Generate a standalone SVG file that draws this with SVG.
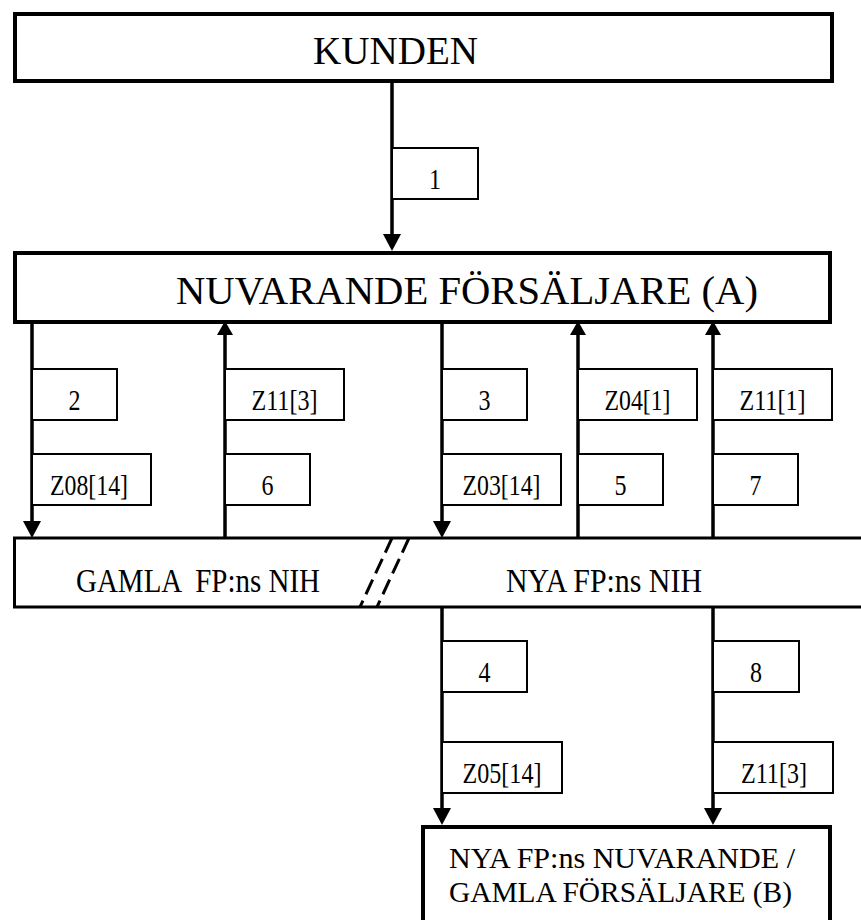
<svg xmlns="http://www.w3.org/2000/svg" width="861" height="920" viewBox="0 0 861 920" font-family="Liberation Serif, Times New Roman, Tinos, DejaVu Serif, serif">
  <style>
    text { font-family: "Liberation Serif", "Times New Roman", Tinos, "DejaVu Serif", serif; fill: #000; }
    .node { fill: #fff; stroke: #000; stroke-width: 4; }
    .mid { fill: #fff; stroke: #000; stroke-width: 3; }
    .lbl { fill: #fff; stroke: #000; stroke-width: 2; }
    .lt { font-size: 30px; text-anchor: middle; }
    .flow { stroke: #000; stroke-width: 3.5; fill: none; }
    .down { marker-end: url(#ahDown); }
    .up { marker-end: url(#ahUp); }
    .dash { stroke: #000; stroke-width: 3; stroke-dasharray: 16 7; fill: none; }
  </style>
  <defs>
    <marker id="ahDown" markerUnits="userSpaceOnUse" viewBox="0 -9 17 18" markerWidth="17" markerHeight="18" refX="11" refY="0" orient="auto">
      <path d="M0,-9 L17,0 L0,9 Z" fill="#000"/>
    </marker>
    <marker id="ahUp" markerUnits="userSpaceOnUse" viewBox="0 -8 14 16" markerWidth="14" markerHeight="16" refX="8" refY="0" orient="auto">
      <path d="M0,-8 L14,0 L0,8 Z" fill="#000"/>
    </marker>
  </defs>
  <rect width="861" height="920" fill="#fff"/>

  <g id="kunden">
    <rect class="node" x="15" y="14" width="817" height="67"/>
    <text x="313" y="64" font-size="39" textLength="165" lengthAdjust="spacingAndGlyphs">KUNDEN</text>
  </g>

  <g id="nuvarande">
    <rect class="node" x="15" y="253" width="815" height="69"/>
    <text x="176" y="304" font-size="39" textLength="582" lengthAdjust="spacingAndGlyphs">NUVARANDE FÖRSÄLJARE (A)</text>
  </g>

  <g id="nih">
    <rect class="mid" x="14.5" y="538" width="900" height="69"/>
    <text x="76" y="592" font-size="33" textLength="244" lengthAdjust="spacingAndGlyphs" xml:space="preserve">GAMLA  FP:ns NIH</text>
    <text x="506" y="592" font-size="33" textLength="196" lengthAdjust="spacingAndGlyphs">NYA FP:ns NIH</text>
    <line class="dash" x1="392" y1="538" x2="360" y2="607"/>
    <line class="dash" x1="409" y1="538" x2="377" y2="607"/>
  </g>

  <g id="nya-fp">
    <rect class="node" x="423" y="827" width="407" height="200"/>
    <text x="449" y="868" font-size="29" textLength="346" lengthAdjust="spacingAndGlyphs">NYA FP:ns NUVARANDE /</text>
    <text x="449" y="902" font-size="29" textLength="343" lengthAdjust="spacingAndGlyphs">GAMLA FÖRSÄLJARE (B)</text>
  </g>

  <g id="connectors">
    <line class="flow down" x1="392" y1="83" x2="392" y2="245"/>
    <line class="flow down" x1="32" y1="324" x2="32" y2="532"/>
    <line class="flow down" x1="442" y1="324" x2="442" y2="532"/>
    <line class="flow up" x1="225" y1="538" x2="225" y2="327"/>
    <line class="flow up" x1="578" y1="538" x2="578" y2="327"/>
    <line class="flow up" x1="713" y1="538" x2="713" y2="327"/>
    <line class="flow down" x1="442" y1="607" x2="442" y2="819"/>
    <line class="flow down" x1="713" y1="607" x2="713" y2="819"/>
  </g>

  <g id="labels">
    <g id="lbl-1"><rect class="lbl" x="392" y="148" width="86" height="51"/><text class="lt" x="435" y="189" textLength="12" lengthAdjust="spacingAndGlyphs">1</text></g>

    <g id="lbl-2"><rect class="lbl" x="32" y="369" width="85" height="51"/><text class="lt" x="74.5" y="410" textLength="12" lengthAdjust="spacingAndGlyphs">2</text></g>
    <g id="lbl-z11-3a"><rect class="lbl" x="225" y="369" width="119" height="51"/><text class="lt" x="284.5" y="410" textLength="66" lengthAdjust="spacingAndGlyphs">Z11[3]</text></g>
    <g id="lbl-3"><rect class="lbl" x="442" y="369" width="85" height="51"/><text class="lt" x="484.5" y="410" textLength="12" lengthAdjust="spacingAndGlyphs">3</text></g>
    <g id="lbl-z04-1"><rect class="lbl" x="578" y="369" width="119" height="51"/><text class="lt" x="637.5" y="410" textLength="66" lengthAdjust="spacingAndGlyphs">Z04[1]</text></g>
    <g id="lbl-z11-1"><rect class="lbl" x="713" y="369" width="119" height="51"/><text class="lt" x="772.5" y="410" textLength="66" lengthAdjust="spacingAndGlyphs">Z11[1]</text></g>

    <g id="lbl-z08-14"><rect class="lbl" x="32" y="454" width="119" height="51"/><text class="lt" x="89" y="495" textLength="78" lengthAdjust="spacingAndGlyphs">Z08[14]</text></g>
    <g id="lbl-6"><rect class="lbl" x="225" y="454" width="85" height="51"/><text class="lt" x="267.5" y="495" textLength="12" lengthAdjust="spacingAndGlyphs">6</text></g>
    <g id="lbl-z03-14"><rect class="lbl" x="442" y="454" width="119" height="51"/><text class="lt" x="501.5" y="495" textLength="78" lengthAdjust="spacingAndGlyphs">Z03[14]</text></g>
    <g id="lbl-5"><rect class="lbl" x="578" y="454" width="85" height="51"/><text class="lt" x="620.5" y="495" textLength="12" lengthAdjust="spacingAndGlyphs">5</text></g>
    <g id="lbl-7"><rect class="lbl" x="713" y="454" width="85" height="51"/><text class="lt" x="755.5" y="495" textLength="12" lengthAdjust="spacingAndGlyphs">7</text></g>

    <g id="lbl-4"><rect class="lbl" x="442" y="641" width="85" height="51"/><text class="lt" x="484.5" y="682" textLength="12" lengthAdjust="spacingAndGlyphs">4</text></g>
    <g id="lbl-z05-14"><rect class="lbl" x="442" y="742" width="120" height="51"/><text class="lt" x="502" y="783" textLength="79" lengthAdjust="spacingAndGlyphs">Z05[14]</text></g>
    <g id="lbl-8"><rect class="lbl" x="713" y="641" width="86" height="51"/><text class="lt" x="756" y="682" textLength="12" lengthAdjust="spacingAndGlyphs">8</text></g>
    <g id="lbl-z11-3b"><rect class="lbl" x="713" y="742" width="120" height="51"/><text class="lt" x="774" y="783" textLength="66" lengthAdjust="spacingAndGlyphs">Z11[3]</text></g>
  </g>
</svg>
